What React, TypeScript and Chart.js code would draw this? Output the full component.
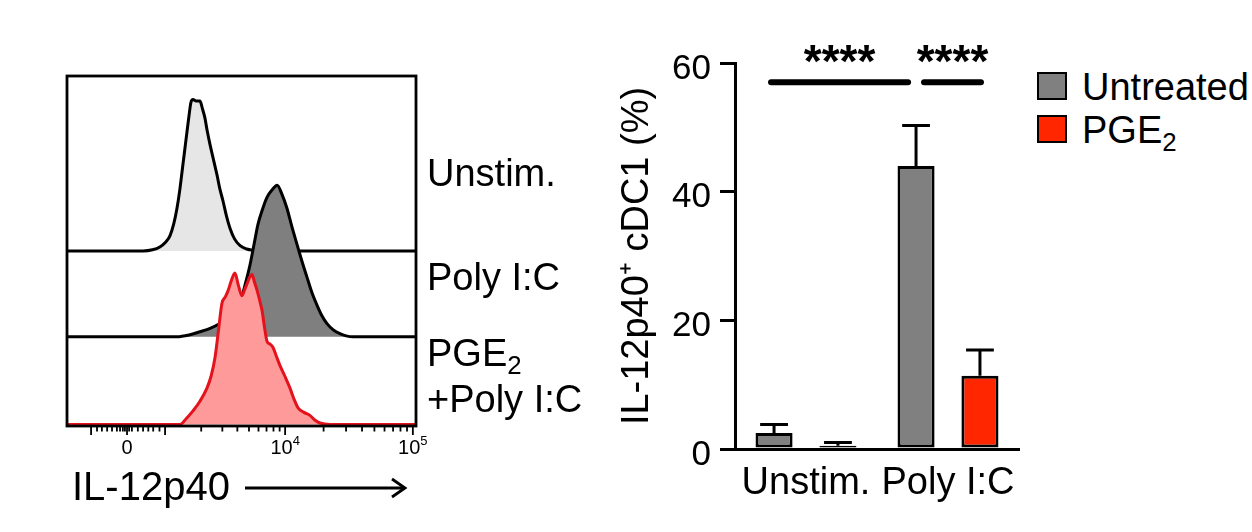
import React, { useEffect, useRef } from 'react';
import { Chart, registerables } from 'chart.js';
Chart.register(...registerables);

const FONT = '"Liberation Sans", Arial, Helvetica, sans-serif';

// ---------- Bar chart data ----------
const groups = ['Unstim.', 'Poly I:C'];
const seriesNames = ['Untreated', 'PGE2'];
const untreatedMean = [2.5, 44.0];
const untreatedErr = [1.3, 6.3];
const pgeMean = [0.5, 11.4];
const pgeErr = [0.5, 4.0];
const yTicks = [0, 20, 40, 60];
const sigText = '****';
const sigLevel = 57;

// ---------- Histogram data (x: position on biexponential display axis 0–100, y: % of mode) ----------
const unstimCurve: [number, number][] = [
  [0, 0], [21.8, 0], [24.5, 0.8], [26.6, 2.7], [28.3, 6], [29.5, 10], [30.6, 18], [31.5, 28], [32.3, 40],
  [33.0, 53], [33.7, 66], [34.4, 79], [35.0, 90], [35.5, 98], [36.1, 100], [37.0, 99], [38.1, 99],
  [38.8, 94], [39.5, 88], [40.2, 79], [41.0, 70], [42.0, 60], [43.0, 50], [43.8, 41], [44.7, 33],
  [45.7, 23], [46.7, 15], [48.0, 8], [49.6, 3.5], [51.5, 1.3], [53.3, 0.5], [56, 0], [100, 0],
];
const polyCurve: [number, number][] = [
  [0, 0], [31.5, 0], [35.0, 1.2], [38.1, 3.3], [41.0, 5.5], [43.8, 8.7], [46.5, 13], [49.6, 23],
  [51.0, 34], [52.4, 47], [53.6, 61], [54.7, 74], [56.0, 84], [57.3, 92], [58.8, 97], [60.2, 100],
  [61.6, 94], [63.0, 85], [64.4, 73], [65.9, 61], [67.3, 50], [68.8, 39], [70.2, 29], [71.6, 21],
  [73.0, 14], [74.5, 8.7], [76.3, 4.5], [78.2, 2], [80.0, 0.6], [81.9, 0], [100, 0],
];
const pgeCurve: [number, number][] = [
  [0, 0], [32.4, 0], [34.2, 4], [36.1, 9], [38.0, 15], [40.1, 24], [41.3, 32], [42.4, 44], [43.4, 62],
  [44.4, 80], [45.3, 84], [46.1, 88], [47.1, 95], [48.1, 100], [49.1, 92], [50.1, 85], [50.9, 89],
  [51.6, 93], [52.3, 97], [53.0, 99], [53.7, 94], [54.4, 89], [55.2, 82], [55.9, 75], [56.6, 64],
  [57.3, 55], [58.2, 53], [59.0, 51], [60.0, 45], [61.0, 39], [62.4, 32], [63.9, 24], [65.0, 17],
  [66.2, 11], [67.9, 8], [69.6, 6], [71.0, 3], [72.5, 1], [75.4, 0], [100, 0],
];
const histRowBase = [0, 57.9, 114.5]; // baselines of the three offset histograms (PGE2, Poly I:C, Unstim.)

// ---------- Histogram axis (biexponential) ----------
const majorTickPos = [6.9, 17.2, 28.1, 62.5, 99.1]; // -10^3, 0, 10^3, 10^4, 10^5
const tickBase = ['', '0', '', '10', '10'];
const tickExp = ['', '', '', '4', '5'];
const linearMinorTicks = [8.6, 10.0, 11.5, 12.9, 14.3, 15.2, 16.0, 16.6, 17.8, 18.6, 20.3, 21.8, 23.3, 24.7, 26.5];
const logDecades: [number, number][] = [[28.1, 62.5], [62.5, 99.1]];
const minorTicks = [
  ...linearMinorTicks,
  ...logDecades.flatMap(([a, b]) => [2, 3, 4, 5, 6, 7, 8, 9].map(k => a + (b - a) * Math.log10(k))),
];

const GREY = '#808080';
const RED = '#ff2600';

const histDecor = {
  id: 'histDecor',
  afterDatasetsDraw(chart: any) {
    const { ctx, chartArea: a, scales } = chart;
    const x = scales.x;
    ctx.save();
    ctx.strokeStyle = '#000';
    ctx.lineWidth = 2.8;
    ctx.strokeRect(a.left, a.top, a.right - a.left, a.bottom - a.top);
    const yb = a.bottom + 1;
    ctx.lineWidth = 1.8;
    ctx.beginPath();
    majorTickPos.forEach(v => {
      const px = x.getPixelForValue(v);
      ctx.moveTo(px, yb); ctx.lineTo(px, yb + 8);
    });
    minorTicks.forEach(v => {
      const px = x.getPixelForValue(v);
      ctx.moveTo(px, yb); ctx.lineTo(px, yb + 4.5);
    });
    ctx.stroke();
    ctx.fillStyle = '#000';
    ctx.textAlign = 'left';
    ctx.textBaseline = 'alphabetic';
    majorTickPos.forEach((v, i) => {
      const base = tickBase[i];
      if (!base) return;
      const exp = tickExp[i];
      ctx.font = `20px ${FONT}`;
      const wb = ctx.measureText(base).width;
      ctx.font = `13px ${FONT}`;
      const we = exp ? ctx.measureText(exp).width : 0;
      const px = x.getPixelForValue(v);
      const left = px - (wb + we) / 2;
      ctx.font = `20px ${FONT}`;
      ctx.fillText(base, left, a.bottom + 28);
      if (exp) {
        ctx.font = `13px ${FONT}`;
        ctx.fillText(exp, left + wb, a.bottom + 19);
      }
    });
    // axis arrow
    const ay = a.bottom + 62;
    const ax0 = a.left + 178;
    const ax1 = a.left + 338;
    ctx.lineWidth = 2.8;
    ctx.lineCap = 'butt';
    ctx.beginPath();
    ctx.moveTo(ax0, ay); ctx.lineTo(ax1, ay);
    ctx.stroke();
    ctx.beginPath();
    ctx.moveTo(ax1 - 13, ay - 9); ctx.lineTo(ax1, ay); ctx.lineTo(ax1 - 13, ay + 9);
    ctx.stroke();
    ctx.restore();
  },
};

const barErrors = [untreatedErr, pgeErr];

const barDecor = {
  id: 'barDecor',
  afterDatasetsDraw(chart: any) {
    const { ctx, scales } = chart;
    const y = scales.y;
    ctx.save();
    ctx.strokeStyle = '#000';
    ctx.lineWidth = 3;
    chart.data.datasets.forEach((ds: any, di: number) => {
      const meta = chart.getDatasetMeta(di);
      meta.data.forEach((bar: any, i: number) => {
        const v = ds.data[i];
        const e = barErrors[di][i];
        const yTop = y.getPixelForValue(v);
        const yErr = y.getPixelForValue(v + e);
        const cap = bar.width * 0.75;
        ctx.beginPath();
        ctx.moveTo(bar.x, yTop); ctx.lineTo(bar.x, yErr);
        ctx.moveTo(bar.x - cap / 2, yErr); ctx.lineTo(bar.x + cap / 2, yErr);
        ctx.stroke();
      });
    });
    // significance brackets
    const b = (d: number, i: number) => chart.getDatasetMeta(d).data[i];
    const ly = y.getPixelForValue(sigLevel);
    const pairs: [number, number][] = [
      [b(0, 0).x - 3, b(0, 1).x - 8],
      [b(0, 1).x + 8, b(1, 1).x + 1],
    ];
    ctx.lineWidth = 6;
    ctx.lineCap = 'round';
    ctx.fillStyle = '#000';
    ctx.font = `bold 46px ${FONT}`;
    ctx.textAlign = 'center';
    ctx.textBaseline = 'alphabetic';
    pairs.forEach(([x0, x1]) => {
      ctx.beginPath();
      ctx.moveTo(x0, ly); ctx.lineTo(x1, ly);
      ctx.stroke();
      ctx.fillText(sigText, (x0 + x1) / 2, ly - 5);
    });
    ctx.restore();
  },
};

function Label({ left, baseline, size, children }: any) {
  return (
    <div style={{ position: 'absolute', left, top: baseline - 0.8465 * size, fontSize: size, lineHeight: `${size}px`, whiteSpace: 'nowrap' }}>
      {children}
    </div>
  );
}
const Sub = ({ children }: any) => (
  <span style={{ fontSize: '0.68em', verticalAlign: '-0.3em', lineHeight: 0 }}>{children}</span>
);

export default function App() {
  const histRef = useRef<HTMLCanvasElement>(null);
  const barRef = useRef<HTMLCanvasElement>(null);

  useEffect(() => {
    const rows = [
      { curve: pgeCurve, base: histRowBase[0], fill: '#ff9a9a', line: '#e3121c' },
      { curve: polyCurve, base: histRowBase[1], fill: '#7f7f7f', line: '#000' },
      { curve: unstimCurve, base: histRowBase[2], fill: '#e6e6e6', line: '#000' },
    ];
    const hist = new Chart(histRef.current as HTMLCanvasElement, {
      type: 'line',
      data: {
        datasets: rows.map(r => ({
          data: r.curve.map(([x, y]) => ({ x, y: y + r.base })),
          fill: { value: r.base },
          backgroundColor: r.fill,
          borderColor: r.line,
          borderWidth: 3,
          pointRadius: 0,
          cubicInterpolationMode: 'monotone',
          clip: false,
        })) as any,
      },
      options: {
        animation: false,
        responsive: false,
        events: [],
        layout: { padding: { left: 37, right: 34, top: 16, bottom: 106 } },
        plugins: { legend: { display: false }, tooltip: { enabled: false } },
        scales: {
          x: { type: 'linear', min: 0, max: 100, display: false },
          y: { type: 'linear', min: -1, max: 230, display: false },
        },
      },
      plugins: [histDecor],
    } as any);

    const bar = new Chart(barRef.current as HTMLCanvasElement, {
      type: 'bar',
      data: {
        labels: groups,
        datasets: [
          { label: seriesNames[0], data: untreatedMean, backgroundColor: GREY, borderColor: '#000', borderWidth: 3, borderSkipped: false, categoryPercentage: 0.9, barPercentage: 0.58 },
          { label: seriesNames[1], data: pgeMean, backgroundColor: RED, borderColor: '#000', borderWidth: 3, borderSkipped: false, categoryPercentage: 0.9, barPercentage: 0.58 },
        ],
      },
      options: {
        animation: false,
        responsive: false,
        events: [],
        layout: { padding: { top: 63, right: 11, left: 0, bottom: 0 } },
        plugins: { legend: { display: false }, tooltip: { enabled: false } },
        scales: {
          x: {
            grid: { display: false, drawTicks: false },
            border: { display: true, color: '#000', width: 3 },
            ticks: { font: { family: FONT, size: 38 }, color: '#000', padding: 12 },
            afterFit: (s: any) => { s.height = 83; },
          },
          y: {
            min: 0,
            max: 60,
            afterBuildTicks: (s: any) => { s.ticks = yTicks.map(v => ({ value: v })); },
            grid: { drawOnChartArea: false, tickLength: 15, lineWidth: 3, color: '#000' },
            border: { color: '#000', width: 3 },
            ticks: { font: { family: FONT, size: 35 }, color: '#000', padding: 9, labelOffset: 6 },
            title: { display: true, text: 'IL-12p40⁺ cDC1 (%)', font: { family: FONT, size: 38, lineHeight: 1.2 }, color: '#000', padding: { top: 15, bottom: 0 } },
            afterFit: (s: any) => { s.width = 135; },
          },
        },
      },
      plugins: [barDecor],
    } as any);

    return () => { hist.destroy(); bar.destroy(); };
  }, []);

  const sq = (bg: string, top: number) => (
    <div style={{ position: 'absolute', left: 1037, top, width: 30, height: 28, boxSizing: 'border-box', border: '2.5px solid #000', background: bg }} />
  );

  return (
    <div style={{ position: 'fixed', left: 0, top: 0, width: 1252, height: 532, background: '#fff', overflow: 'hidden', fontFamily: FONT, color: '#000' }}>
      <canvas ref={histRef} width={420} height={472} style={{ position: 'absolute', left: 30, top: 60 }} />
      <canvas ref={barRef} width={430} height={532} style={{ position: 'absolute', left: 600, top: 0 }} />
      <Label left={427} baseline={186} size={38}>Unstim.</Label>
      <Label left={427} baseline={290} size={38}>Poly I:C</Label>
      <Label left={427} baseline={366} size={38}>PGE<Sub>2</Sub></Label>
      <Label left={427} baseline={412} size={38}>+Poly I:C</Label>
      <Label left={72} baseline={500} size={40}>IL-12p40</Label>
      {sq(GREY, 72)}
      {sq(RED, 115)}
      <Label left={1082} baseline={100} size={38}>{seriesNames[0]}</Label>
      <Label left={1082} baseline={143} size={38}>PGE<Sub>2</Sub></Label>
    </div>
  );
}
